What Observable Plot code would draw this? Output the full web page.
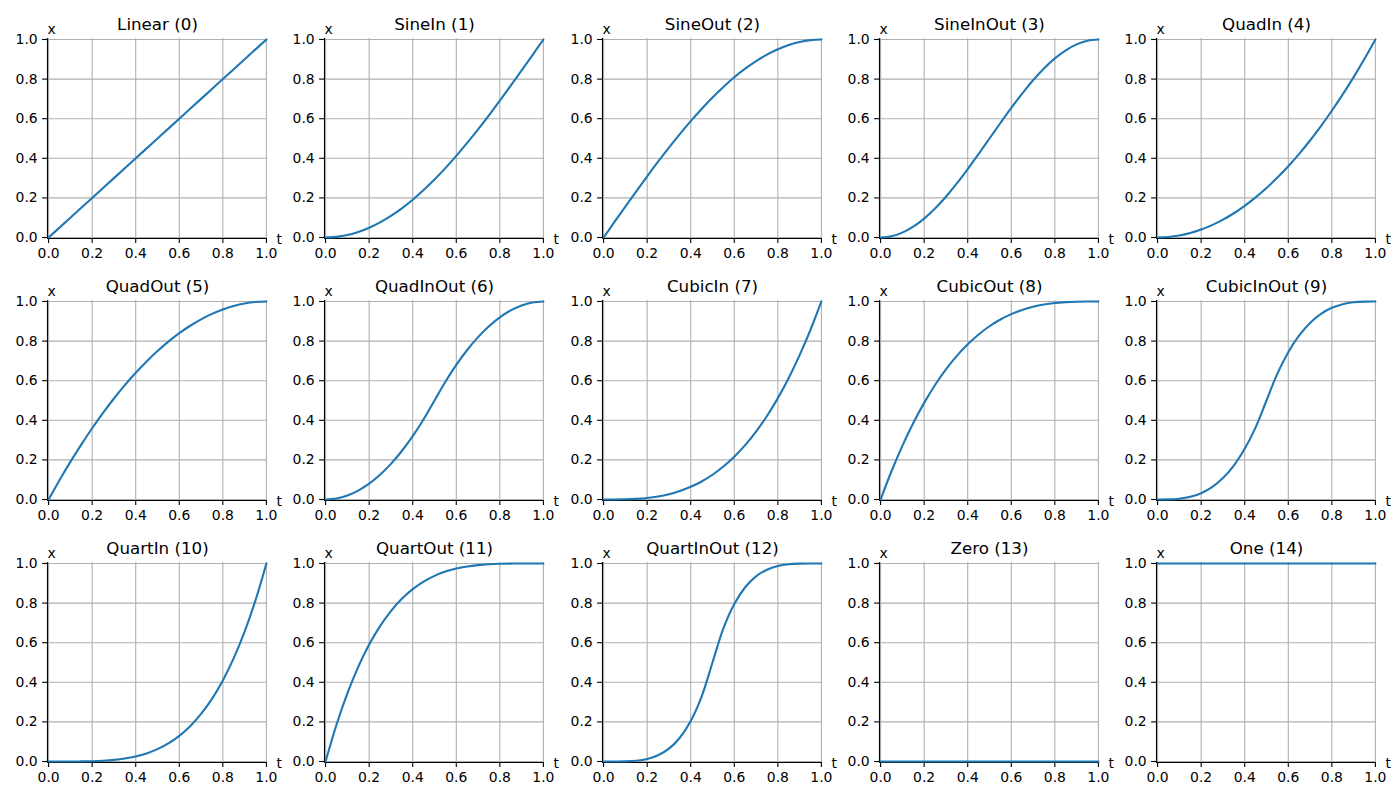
<!DOCTYPE html>
<html>
<head>
<meta charset="utf-8">
<script src="https://cdn.jsdelivr.net/npm/d3@7"></script>
<script src="https://cdn.jsdelivr.net/npm/@observablehq/plot@0.6"></script>
<style>
  html, body { margin: 0; padding: 0; background: #ffffff; }
  #chart { position: relative; width: 1400px; height: 800px; background: #ffffff; }
  #chart > div.panel { position: absolute; }
  svg { overflow: visible; }
</style>
</head>
<body>
<div id="chart"></div>
<script>
// ---- data (x value at each t) ----
const T = [0, 0.05, 0.1, 0.15, 0.2, 0.25, 0.3, 0.35, 0.4, 0.45, 0.5, 0.55, 0.6, 0.65, 0.7, 0.75, 0.8, 0.85, 0.9, 0.95, 1];

const titles = ["Linear (0)", "SineIn (1)", "SineOut (2)", "SineInOut (3)", "QuadIn (4)",
                "QuadOut (5)", "QuadInOut (6)", "CubicIn (7)", "CubicOut (8)", "CubicInOut (9)",
                "QuartIn (10)", "QuartOut (11)", "QuartInOut (12)", "Zero (13)", "One (14)"];

const linear     = [0, 0.05, 0.1, 0.15, 0.2, 0.25, 0.3, 0.35, 0.4, 0.45, 0.5, 0.55, 0.6, 0.65, 0.7, 0.75, 0.8, 0.85, 0.9, 0.95, 1];
const sineIn     = [0, 0.0031, 0.0123, 0.0276, 0.0489, 0.0761, 0.1090, 0.1474, 0.1910, 0.2396, 0.2929, 0.3505, 0.4122, 0.4775, 0.5460, 0.6173, 0.6910, 0.7666, 0.8436, 0.9215, 1];
const sineOut    = [0, 0.0785, 0.1564, 0.2334, 0.3090, 0.3827, 0.4540, 0.5225, 0.5878, 0.6494, 0.7071, 0.7604, 0.8090, 0.8526, 0.8910, 0.9239, 0.9511, 0.9724, 0.9877, 0.9969, 1];
const sineInOut  = [0, 0.0062, 0.0245, 0.0545, 0.0955, 0.1464, 0.2061, 0.2730, 0.3455, 0.4218, 0.5, 0.5782, 0.6545, 0.7270, 0.7939, 0.8536, 0.9045, 0.9455, 0.9755, 0.9938, 1];
const quadIn     = [0, 0.0025, 0.01, 0.0225, 0.04, 0.0625, 0.09, 0.1225, 0.16, 0.2025, 0.25, 0.3025, 0.36, 0.4225, 0.49, 0.5625, 0.64, 0.7225, 0.81, 0.9025, 1];
const quadOut    = [0, 0.0975, 0.19, 0.2775, 0.36, 0.4375, 0.51, 0.5775, 0.64, 0.6975, 0.75, 0.7975, 0.84, 0.8775, 0.91, 0.9375, 0.96, 0.9775, 0.99, 0.9975, 1];
const quadInOut  = [0, 0.005, 0.02, 0.045, 0.08, 0.125, 0.18, 0.245, 0.32, 0.405, 0.5, 0.595, 0.68, 0.755, 0.82, 0.875, 0.92, 0.955, 0.98, 0.995, 1];
const cubicIn    = [0, 0.000125, 0.001, 0.003375, 0.008, 0.015625, 0.027, 0.042875, 0.064, 0.091125, 0.125, 0.166375, 0.216, 0.274625, 0.343, 0.421875, 0.512, 0.614125, 0.729, 0.857375, 1];
const cubicOut   = [0, 0.142625, 0.271, 0.385875, 0.488, 0.578125, 0.657, 0.725375, 0.784, 0.833625, 0.875, 0.908875, 0.936, 0.957125, 0.973, 0.984375, 0.992, 0.996625, 0.999, 0.999875, 1];
const cubicInOut = [0, 0.0005, 0.004, 0.0135, 0.032, 0.0625, 0.108, 0.1715, 0.256, 0.3645, 0.5, 0.6355, 0.744, 0.8285, 0.892, 0.9375, 0.968, 0.9865, 0.996, 0.9995, 1];
const quartIn    = [0, 0.00000625, 0.0001, 0.00050625, 0.0016, 0.00390625, 0.0081, 0.01500625, 0.0256, 0.04100625, 0.0625, 0.09150625, 0.1296, 0.17850625, 0.2401, 0.31640625, 0.4096, 0.52200625, 0.6561, 0.81450625, 1];
const quartOut   = [0, 0.18549, 0.3439, 0.47799, 0.5904, 0.68359, 0.7599, 0.82149, 0.8704, 0.90849, 0.9375, 0.95899, 0.9744, 0.98499, 0.9919, 0.99609, 0.9984, 0.99949, 0.9999, 0.99999, 1];
const quartInOut = [0, 0.00005, 0.0008, 0.00405, 0.0128, 0.03125, 0.0648, 0.12005, 0.2048, 0.32805, 0.5, 0.67195, 0.7952, 0.87995, 0.9352, 0.96875, 0.9872, 0.99595, 0.9992, 0.99995, 1];
const zero       = [0, 0, 0, 0, 0, 0, 0, 0, 0, 0, 0, 0, 0, 0, 0, 0, 0, 0, 0, 0, 0];
const one        = [1, 1, 1, 1, 1, 1, 1, 1, 1, 1, 1, 1, 1, 1, 1, 1, 1, 1, 1, 1, 1];

const seriesValues = [linear, sineIn, sineOut, sineInOut, quadIn,
                      quadOut, quadInOut, cubicIn, cubicOut, cubicInOut,
                      quartIn, quartOut, quartInOut, zero, one];

const tickValues = [0, 0.2, 0.4, 0.6, 0.8, 1.0];

// ---- drawing ----
const chart = document.getElementById("chart");
const lo = -0.005, hi = 1.005;
const fmt = d3.format(".1f");

seriesValues.forEach((vals, i) => {
  const col = i % 5, row = Math.floor(i / 5);
  const data = T.map((t, j) => ({t, v: vals[j]}));
  const p = Plot.plot({
    width: 277,
    height: 262,
    marginLeft: 47,
    marginRight: 10,
    marginTop: 38,
    marginBottom: 24,
    x: {domain: [lo, hi]},
    y: {domain: [lo, hi]},
    style: {fontFamily: "'DejaVu Sans', sans-serif", fontSize: "13.9px", color: "black", background: "transparent", overflow: "visible"},
    marks: [
      Plot.gridX(tickValues, {stroke: "#b0b0b0", strokeOpacity: 1, strokeWidth: 1.1}),
      Plot.gridY(tickValues, {stroke: "#b0b0b0", strokeOpacity: 1, strokeWidth: 1.1}),
      Plot.ruleX([lo], {stroke: "black", strokeWidth: 1.1}),
      Plot.ruleY([lo], {stroke: "black", strokeWidth: 1.1}),
      Plot.axisX(tickValues, {anchor: "bottom", tickSize: 4.9, tickPadding: 4.9, tickFormat: fmt, label: null, strokeWidth: 1.1, fontSize: 13.9}),
      Plot.axisY(tickValues, {anchor: "left", tickSize: 4.9, tickPadding: 4.9, tickFormat: fmt, label: null, strokeWidth: 1.1, fontSize: 13.9}),
      Plot.line(data, {x: "t", y: "v", stroke: "#1f77b4", strokeWidth: 2.1, curve: "catmull-rom"}),
      Plot.text([titles[i]], {text: d => d, frameAnchor: "top", lineAnchor: "bottom", dy: -8.3, fontSize: 16.7, fill: "black"}),
      Plot.text(["x"], {text: d => d, frameAnchor: "top-left", textAnchor: "start", lineAnchor: "bottom", dy: -4.5, fontSize: 13.9, fill: "black"}),
      Plot.text(["t"], {text: d => d, frameAnchor: "bottom-right", textAnchor: "start", lineAnchor: "bottom", dx: 9, dy: 5.5, fontSize: 13.9, fill: "black"})
    ]
  });
  const wrap = document.createElement("div");
  wrap.className = "panel";
  wrap.style.left = Math.round(277.25 * col) + "px";
  wrap.style.top = (262 * row) + "px";
  wrap.appendChild(p);
  chart.appendChild(wrap);
});
</script>
</body>
</html>
